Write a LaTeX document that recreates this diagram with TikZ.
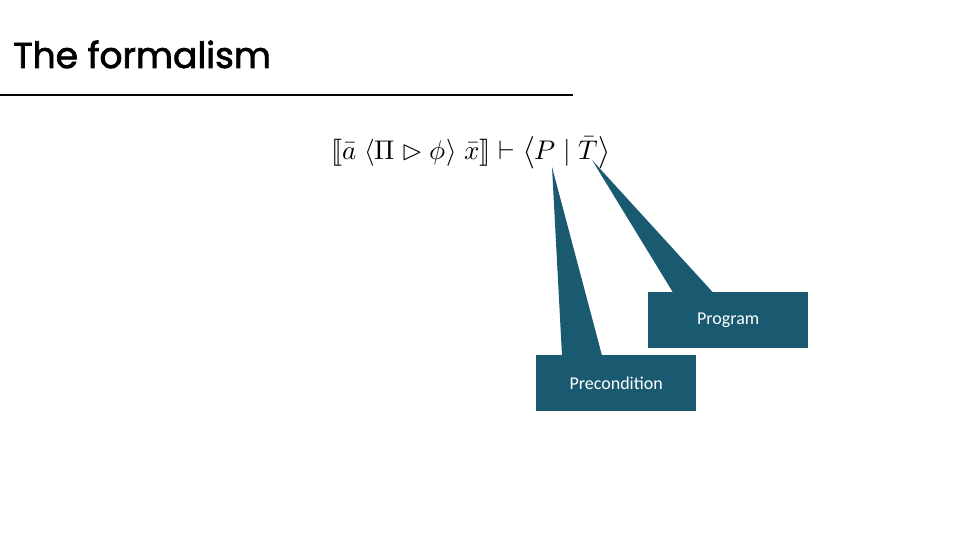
\documentclass[tikz,border=0pt]{standalone}
\usepackage{amsmath}
\usepackage{fontspec}
\usepackage{unicode-math}
\setmainfont{Carlito}
\newfontfamily\titlefont[FakeBold=2]{Poppins}
\usepackage{tikz}
\usetikzlibrary{calc,positioning}
\definecolor{bo}{RGB}{26,90,112}
\tikzset{callbox/.style={fill=bo,text=white,minimum width=160pt,minimum height=56pt,inner sep=0pt,font=\fontsize{18}{22}\selectfont},
         callwedge/.style={fill=bo}}
\begin{document}
\begin{tikzpicture}[x=1pt,y=-1pt]
\useasboundingbox (0,0)rectangle(960,540);
\node[anchor=base west,inner sep=0pt,font=\titlefont\fontsize{36}{40}\selectfont](T)at(13,68){The formalism};
\coordinate (L1) at (0,95);\coordinate (L2) at (573,95);
\draw[line width=2pt](L1)--(L2);
\node[anchor=base,inner sep=0pt,font=\fontsize{27}{32}\selectfont](F)at(471,160)
  {$\lBrack\bar{a}\;\langle\Pi\vartriangleright\phi\rangle\;\bar{x}\rBrack\vdash\left\langle P\mid\bar{T}\right\rangle$};
\coordinate (tipP) at (552,167);
\coordinate (tipT) at (592,160);
\node[callbox,anchor=north west](pre)at(536,355){Precondition};
\node[callbox,anchor=north west](prog)at(648,292){Program};
\fill[callwedge] (tipP)--($(pre.north west)+(26,0.5)$)--($(pre.north west)+(66,0.5)$)--cycle;
\fill[callwedge] (tipT)--($(prog.north west)+(25,0.5)$)--($(prog.north west)+(65,0.5)$)--cycle;
\end{tikzpicture}
\end{document}
